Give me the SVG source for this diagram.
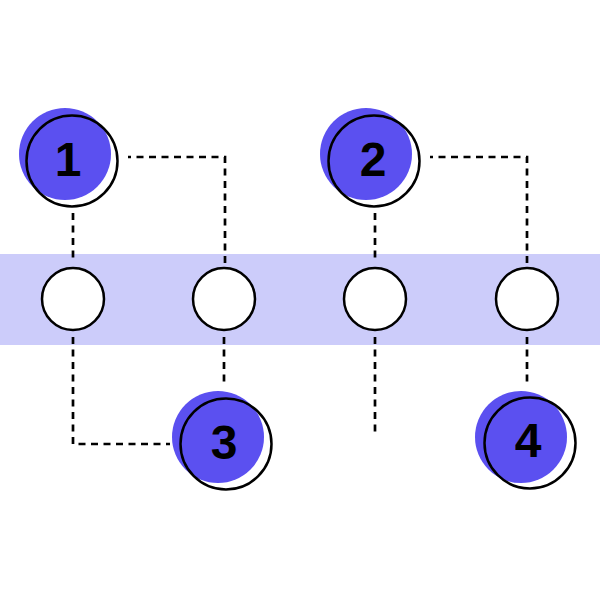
<svg xmlns="http://www.w3.org/2000/svg" width="600" height="600" viewBox="0 0 600 600">
<style>
.band{fill:#ccccfa}
.slot{fill:#fff;stroke:#000;stroke-width:2.5}
.blob{fill:#5b50f0}
.ring{fill:none;stroke:#000;stroke-width:2.5}
.num{font-family:"Liberation Sans",Arial,sans-serif;font-weight:bold;font-size:48px;fill:#000;text-anchor:middle}
.dash{fill:none;stroke:#000;stroke-width:2.7;stroke-dasharray:7 5.5}
</style>
<rect width="600" height="600" fill="#fff"/>
<rect class="band" x="0" y="254" width="600" height="91"/>
<g id="connectors">
<path class="dash" d="M73 213V263"/>
<path class="dash" d="M225 263V157H128"/>
<path class="dash" d="M73 337V444H170"/>
<path class="dash" d="M224 337V385"/>
<path class="dash" d="M375 213V263"/>
<path class="dash" d="M527 263V157H430"/>
<path class="dash" d="M375 337V437"/>
<path class="dash" d="M527 337V385"/>
</g>
<g id="slot-a"><circle class="slot" cx="73" cy="299" r="31"/></g>
<g id="slot-b"><circle class="slot" cx="224" cy="299" r="31"/></g>
<g id="slot-c"><circle class="slot" cx="375" cy="299" r="31"/></g>
<g id="slot-d"><circle class="slot" cx="527" cy="299" r="31"/></g>
<g id="node-1"><circle class="blob" cx="65" cy="154" r="46"/><circle class="ring" cx="72" cy="161" r="45.5"/><text class="num" x="68" y="176">1</text></g>
<g id="node-2"><circle class="blob" cx="366" cy="154" r="46"/><circle class="ring" cx="374" cy="161" r="45.5"/><text class="num" x="373" y="176">2</text></g>
<g id="node-3"><circle class="blob" cx="218" cy="437" r="46"/><circle class="ring" cx="226" cy="444" r="45.5"/><text class="num" x="224" y="459">3</text></g>
<g id="node-4"><circle class="blob" cx="521" cy="437" r="46"/><circle class="ring" cx="530" cy="443" r="45.5"/><text class="num" x="528" y="457">4</text></g>
</svg>
